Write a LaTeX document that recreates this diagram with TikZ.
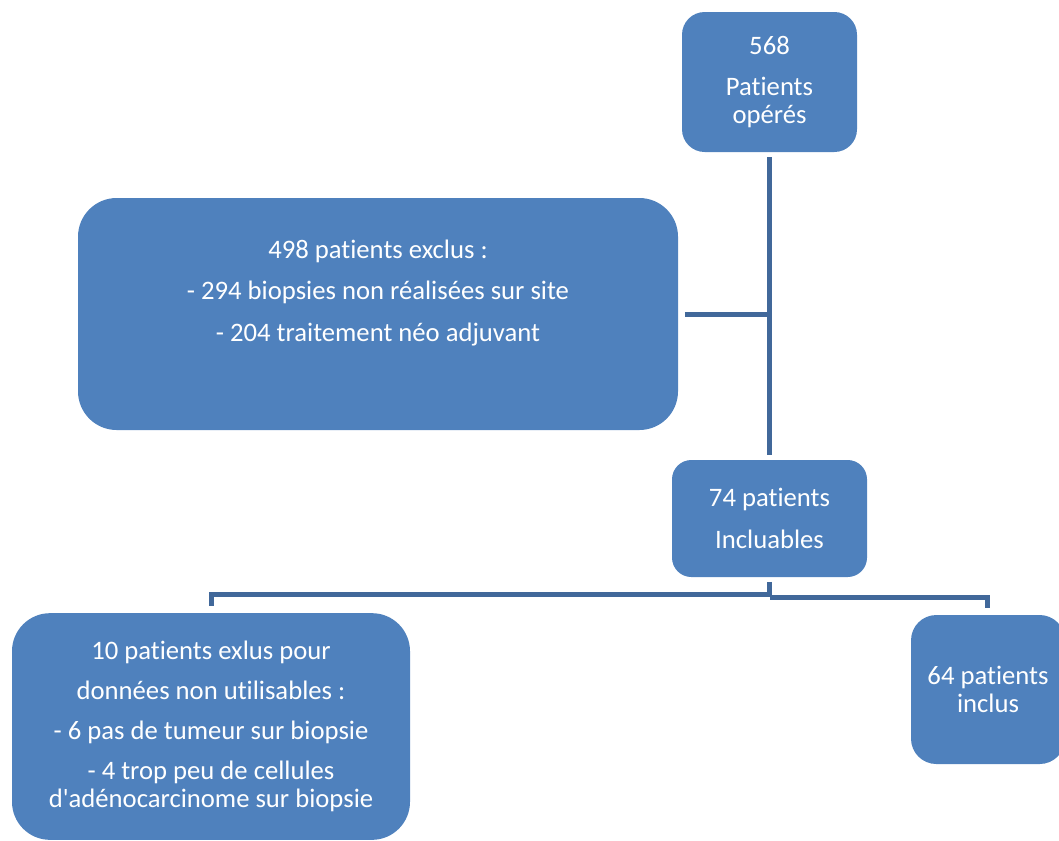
\documentclass[tikz,border=0pt]{standalone}
\usepackage{fontspec}
\newfontfamily\calibri{Carlito}[Ligatures=NoCommon]
\definecolor{boxblue}{HTML}{4F81BD}
\definecolor{lineblue}{HTML}{41689A}

\begin{document}
\begin{tikzpicture}[x=0.75pt,y=-0.75pt,
  box/.style={fill=boxblue, text=white, align=center, inner sep=0pt,
    font=\calibri\fontsize{20}{21}\selectfont},
  boxtext/.style={text=white, align=center, inner sep=0pt,
    font=\calibri\fontsize{20}{21}\selectfont},
  link/.style={draw=lineblue, line width=3.75pt}]
\useasboundingbox (0,0) rectangle (1059,840);

% boxes, placed at pixel coordinates of the scan
\node[box, minimum width=131.25pt, minimum height=105pt, rounded corners=17pt]
  (operes) at (769.5,82) {568\\[10pt]Patients\\opérés};
\node[box, minimum width=450pt, minimum height=174pt, rounded corners=29pt]
  (exclus) at (378,314) {};
\node[boxtext] (exclustxt) at (378,293)
  {498 patients exclus :\\[10pt]- 294 biopsies non réalisées sur site\\[10pt]- 204 traitement néo adjuvant};
\node[box, minimum width=146.25pt, minimum height=87.75pt, rounded corners=14.5pt]
  (incluables) at (769.5,518.5) {74 patients\\[10pt]Incluables};
\node[box, minimum width=298.5pt, minimum height=170pt, rounded corners=28.5pt]
  (exlus) at (211,726.5)
  {10 patients exlus pour\\[9pt]données non utilisables :\\[9pt]- 6 pas de tumeur sur biopsie\\[9pt]- 4 trop peu de cellules\\d'adénocarcinome sur biopsie};
\node[box, minimum width=115.5pt, minimum height=111.75pt, rounded corners=19pt]
  (inclus) at (988,689.5) {64 patients\\inclus};

% connectors
\coordinate (splitL) at (769.5,594);
\coordinate (splitR) at (769.5,597);
\draw[link, shorten <=3.75pt, shorten >=3.75pt] (operes.south) -- (incluables.north);
\draw[link, shorten <=5pt] (exclus.east) -- (exclus.east -| operes.south);
\draw[link, shorten <=3.5pt, shorten >=5pt] (incluables.south) -- (splitL) -| (exlus.north);
\draw[link, shorten >=5pt] (splitR) -| ([xshift=-0.75pt]inclus.north);
\end{tikzpicture}
\end{document}
